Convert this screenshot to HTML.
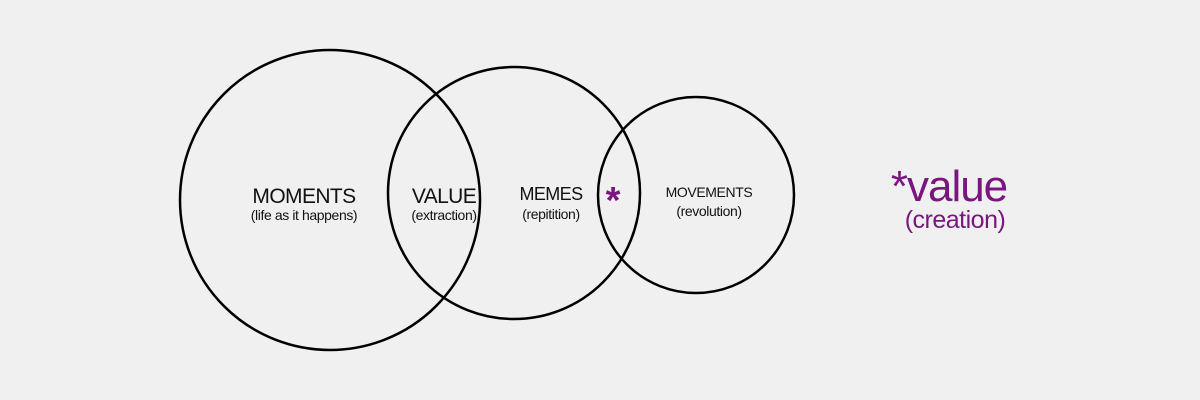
<!DOCTYPE html>
<html><head><style>
html,body{margin:0;padding:0;background:#f0f0f0;}
svg{display:block}
text{font-family:"Liberation Sans",Arial,sans-serif;}
</style></head><body>
<svg width="1200" height="400" viewBox="0 0 1200 400">
<rect width="1200" height="400" fill="#f0f0f0"/>
<g fill="none" stroke="#000" stroke-width="2.5">
<circle cx="330" cy="200" r="150"/>
<circle cx="514" cy="193" r="126"/>
<circle cx="696" cy="195" r="98"/>
</g>
<g fill="#111" text-anchor="middle">
<text x="304" y="203" font-size="21" letter-spacing="-0.6">MOMENTS</text>
<text x="304" y="220" font-size="14" letter-spacing="-0.4">(life as it happens)</text>
<text x="444" y="203" font-size="21" letter-spacing="-0.6">VALUE</text>
<text x="444" y="220" font-size="14" letter-spacing="-0.4">(extraction)</text>
<text x="551" y="200" font-size="18" letter-spacing="-0.6">MEMES</text>
<text x="551" y="219" font-size="14" letter-spacing="-0.4">(repitition)</text>
<text x="709" y="197" font-size="14" letter-spacing="-0.4">MOVEMENTS</text>
<text x="709" y="216" font-size="14" letter-spacing="-0.4">(revolution)</text>
</g>
<text x="613" y="213" font-size="38" font-weight="bold" fill="#7a1680" text-anchor="middle">*</text>
<text x="949" y="201" font-size="44" fill="#7a1680" text-anchor="middle" letter-spacing="-1">*value</text>
<text x="955" y="228" font-size="25" fill="#7a1680" text-anchor="middle" letter-spacing="-0.5">(creation)</text>
</svg>
</body></html>
